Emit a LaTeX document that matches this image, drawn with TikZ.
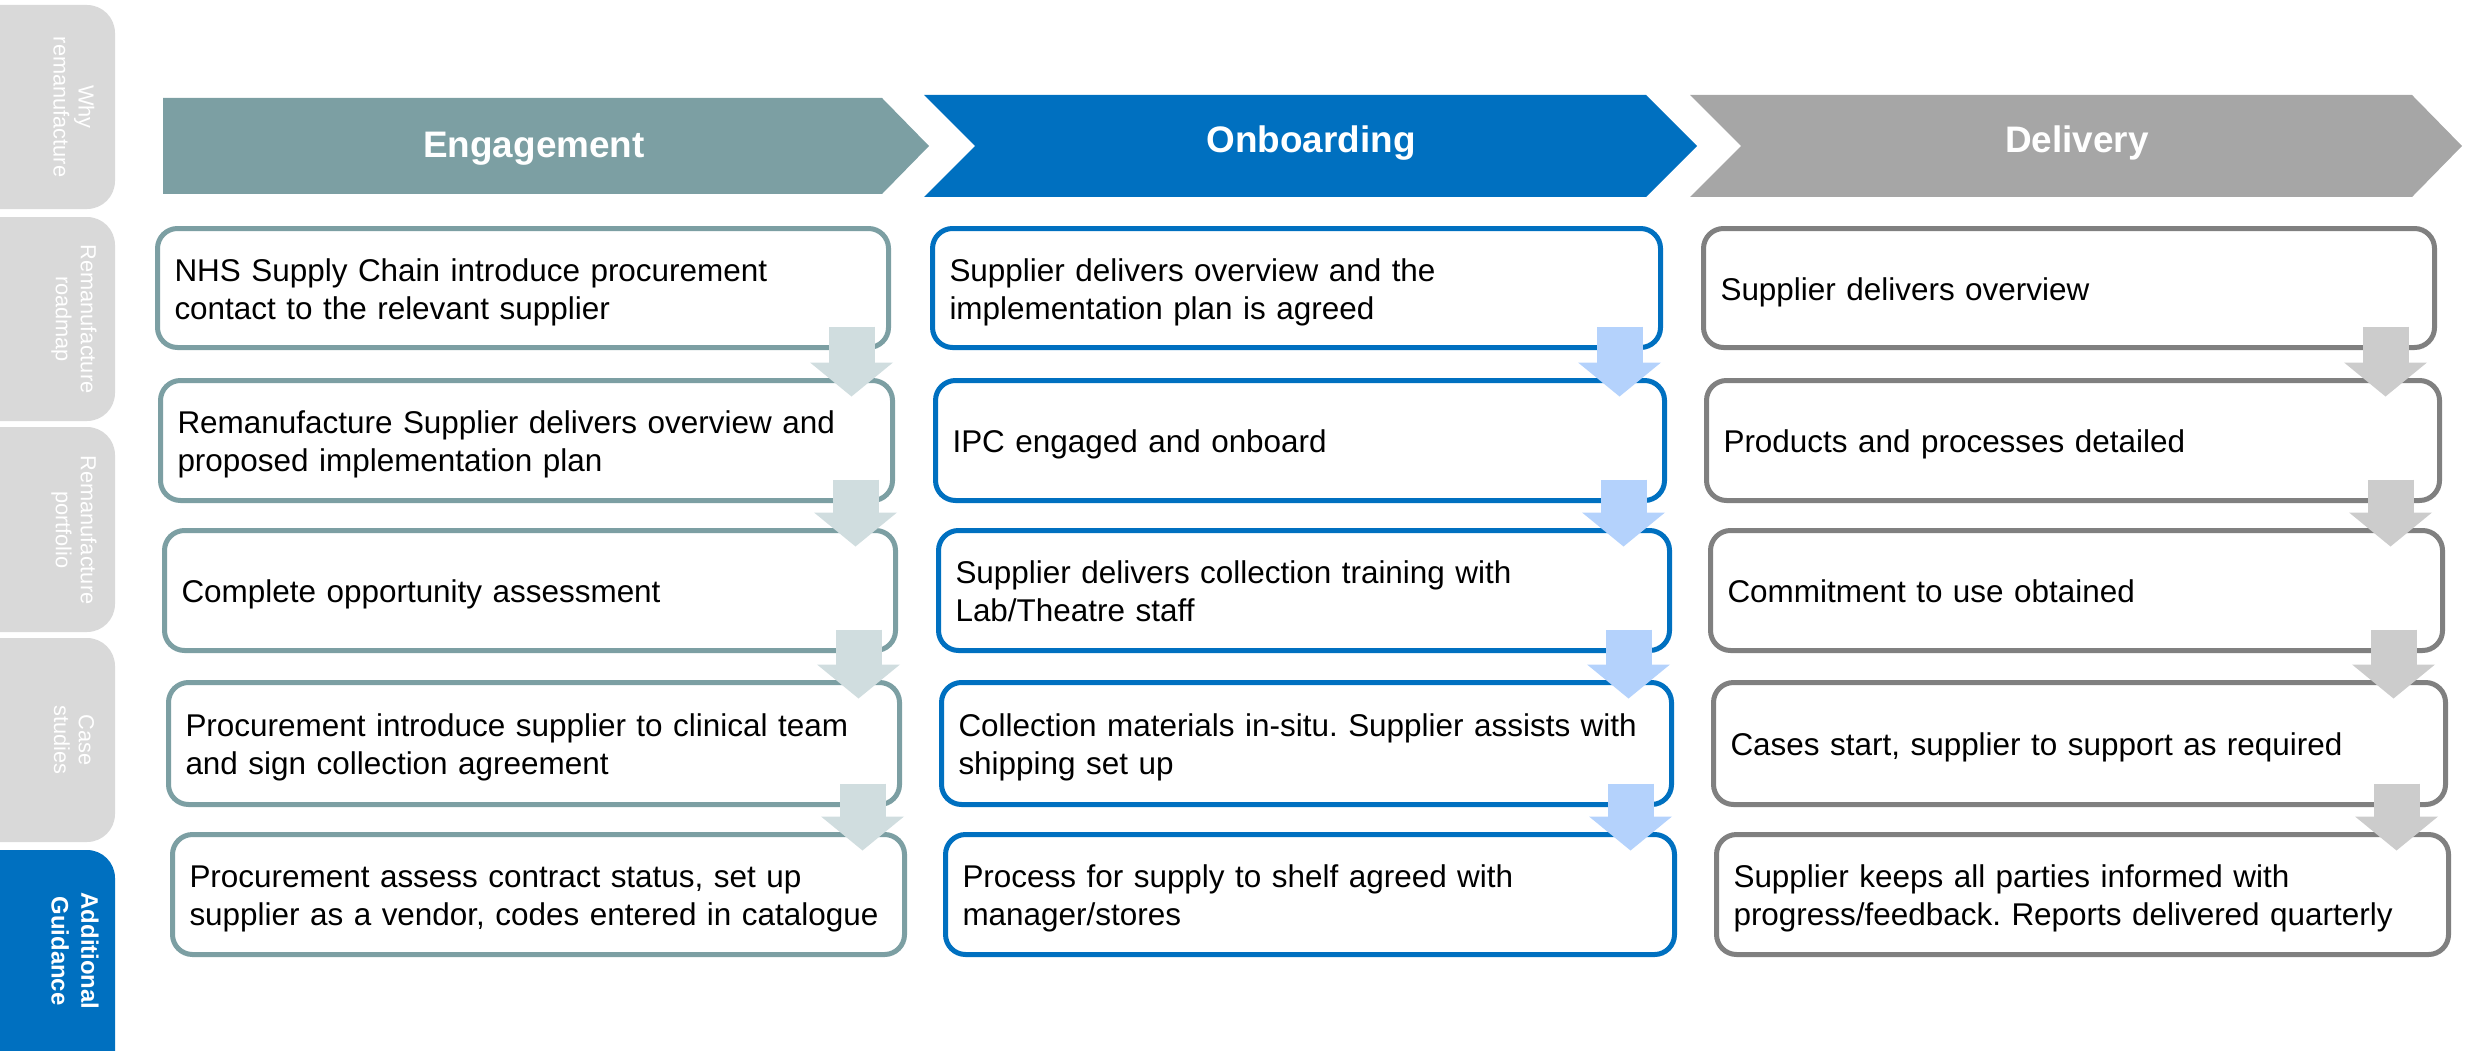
\documentclass[tikz,border=0pt]{standalone}
\usepackage{fontspec}
\setmainfont{Liberation Sans}
\usetikzlibrary{arrows.meta,calc}
\frenchspacing

\definecolor{engcol}{HTML}{7C9FA3}
\definecolor{engarr}{HTML}{D0DDDF}
\definecolor{oncol}{HTML}{0070C0}
\definecolor{onarr}{HTML}{B4D2FC}
\definecolor{delhead}{HTML}{A6A6A6}
\definecolor{delline}{HTML}{808080}
\definecolor{delarr}{HTML}{CCCCCC}
\definecolor{tabgrey}{HTML}{D9D9D9}

% struts that give every step text the same top and bottom
\newcommand{\bxtop}{\rule{0pt}{\dimexpr 0.73em+0.8mm\relax}}
\newcommand{\bxbot}{\rule[-0.22em]{0pt}{0.22em}}

% one step box: name, style, left, top, right, bottom (outer edges), text
\newcommand{\flowbox}[7]{%
  \pgfmathsetlengthmacro\fbw{(#5-#3-5)*0.1mm}%
  \pgfmathsetlengthmacro\fbh{(#6-#4-5)*0.1mm}%
  \pgfmathsetlengthmacro\fbt{(#5-#3-5-34)*0.1mm}%
  \node[#2, minimum width=\fbw, minimum height=\fbh, text width=\fbt]
    (#1) at ({(#3+#5)/2},{(#4+#6)/2}) {\bxtop#7\bxbot};%
}

\begin{document}
\hyphenpenalty=10000\relax
\begin{tikzpicture}[x=0.1mm,y=-0.1mm,
  tab/.style={rounded corners=2.8mm},
  tabtext/.style={text=white, rotate=-90, align=center, inner sep=0pt,
    font=\fontsize{6.2}{7.1}\selectfont},
  headtext/.style={text=white, inner sep=0pt,
    font=\bfseries\fontsize{10.5}{12}\selectfont},
  stepbox/.style={fill=white, line width=0.5mm, rounded corners=2mm,
    inner xsep=1.7mm, inner ysep=0pt, align=left,
    font=\fontsize{8.95}{10.8}\selectfont},
  engbox/.style={stepbox, draw=engcol},
  onbox/.style={stepbox, draw=oncol},
  delbox/.style={stepbox, draw=delline},
  flowarrow/.style={line width=4.6mm,
    -{Triangle[width=8.3mm,length=3.4mm,line width=0pt]}},
  engarrow/.style={flowarrow, draw=engarr},
  onarrow/.style={flowarrow, draw=onarr},
  delarrow/.style={flowarrow, draw=delarr}]

\useasboundingbox (0,0) rectangle (2481,1050);

% side navigation tabs
\fill[tab, tabgrey] (-40,5) rectangle (115,209);
\fill[tab, tabgrey] (-40,217) rectangle (115,421);
\fill[tab, tabgrey] (-40,427) rectangle (115,632);
\fill[tab, tabgrey] (-40,638) rectangle (115,842);
\fill[tab, oncol] (-40,850) rectangle (115,1080);
\node[tabtext] (tab1) at (74,107) {Why\\remanufacture};
\node[tabtext] (tab2) at (74,319) {Remanufacture\\roadmap};
\node[tabtext] (tab3) at (74,530) {Remanufacture\\portfolio};
\node[tabtext] (tab4) at (74,740) {Case\\studies};
\node[tabtext, font=\bfseries\fontsize{6.8}{8.5}\selectfont] (tab5) at (75,951) {Additional\\Guidance};

% phase headers
\fill[engcol] (163,98) -- (882,98) -- (929,146) -- (882,194) -- (163,194) -- cycle;
\fill[oncol] (924,95) -- (1646,95) -- (1697,146) -- (1646,197) -- (924,197) -- (975,146) -- cycle;
\fill[delhead] (1690,95) -- (2412,95) -- (2462,146) -- (2412,197) -- (1690,197) -- (1741,146) -- cycle;
\node[headtext, anchor=base] (hEng) at (534,158) {Engagement};
\node[headtext, anchor=base] (hOn) at (1311,153) {Onboarding};
\node[headtext, anchor=base] (hDel) at (2077,153) {Delivery};

% Engagement steps
\flowbox{e1}{engbox}{155}{226}{891}{350}{NHS Supply Chain introduce procurement\\contact to the relevant supplier}
\flowbox{e2}{engbox}{158}{378}{895}{503}{Remanufacture Supplier delivers overview and\\proposed implementation plan}
\flowbox{e3}{engbox}{162}{528}{898}{653}{Complete opportunity assessment}
\flowbox{e4}{engbox}{166}{680}{902}{807}{Procurement introduce supplier to clinical team\\and sign collection agreement}
\flowbox{e5}{engbox}{170}{832}{907}{957}{Procurement assess contract status, set up\\supplier as a vendor, codes entered in catalogue}

% Onboarding steps
\flowbox{o1}{onbox}{930}{226}{1663}{350}{Supplier delivers overview and the\\implementation plan is agreed}
\flowbox{o2}{onbox}{933}{378}{1667}{503}{IPC engaged and onboard}
\flowbox{o3}{onbox}{936}{528}{1672}{653}{Supplier delivers collection training with\\Lab/Theatre staff}
\flowbox{o4}{onbox}{939}{680}{1674}{807}{Collection materials in-situ. Supplier assists with\\shipping set up}
\flowbox{o5}{onbox}{943}{832}{1677}{957}{Process for supply to shelf agreed with\\manager/stores}

% Delivery steps
\flowbox{d1}{delbox}{1701}{226}{2437}{350}{Supplier delivers overview}
\flowbox{d2}{delbox}{1704}{378}{2442}{503}{Products and processes detailed}
\flowbox{d3}{delbox}{1708}{528}{2445}{653}{Commitment to use obtained}
\flowbox{d4}{delbox}{1711}{680}{2448}{807}{Cases start, supplier to support as required}
\flowbox{d5}{delbox}{1714}{832}{2451}{957}{Supplier keeps all parties informed with\\progress/feedback. Reports delivered quarterly}

% step-to-step arrows
\foreach \a/\b in {e1/e2,e2/e3,e3/e4,e4/e5}
  \draw[engarrow] ($(\a.south east)+(-39.5,-23.5)$) -- ($(\a.south east |- \b.north)+(-39.5,18.5)$);
\foreach \a/\b in {o1/o2,o2/o3,o3/o4,o4/o5}
  \draw[onarrow] ($(\a.south east)+(-43.5,-23.5)$) -- ($(\a.south east |- \b.north)+(-43.5,18.5)$);
\foreach \a/\b in {d1/d2,d2/d3,d3/d4,d4/d5}
  \draw[delarrow] ($(\a.south east)+(-51.5,-23.5)$) -- ($(\a.south east |- \b.north)+(-51.5,18.5)$);

\end{tikzpicture}
\end{document}
